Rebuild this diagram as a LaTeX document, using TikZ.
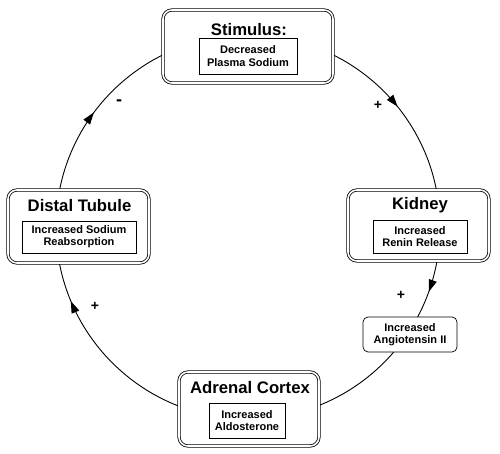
\documentclass[tikz,border=0pt]{standalone}
\usepackage{fontspec}
\setmainfont{Liberation Sans}
\usetikzlibrary{arrows.meta,decorations.markings}
\begin{document}
\begin{tikzpicture}[x=1pt,y=-1pt,
 outerbox/.style={draw, fill=white, rounded corners=9pt, line width=0.8pt, double, double distance=1.6pt, inner sep=0pt},
 innerbox/.style={draw, fill=white, line width=0.7pt, inner sep=0pt, align=center, font=\fontsize{11}{12.3}\selectfont\bfseries},
 roundbox/.style={draw, fill=white, rounded corners=5pt, line width=0.7pt, inner sep=0pt, align=center, font=\fontsize{11}{12.3}\selectfont\bfseries},
 titletext/.style={font=\fontsize{16.7}{18}\selectfont\bfseries, inner sep=0pt},
 signtext/.style={font=\fontsize{14}{15}\selectfont\bfseries, inner sep=0pt},
 tip/.tip={Triangle[length=12pt,width=8pt]},
 cyc/.style={line width=0.9pt, postaction={decorate}, decoration={markings,
   mark=at position 0.1422 with {\arrow{tip}},
   mark=at position 0.3047 with {\arrow{tip}},
   mark=at position 0.6870 with {\arrow{tip}},
   mark=at position 0.8517 with {\arrow{tip}}}}
]
\useasboundingbox (0,0) rectangle (500,454);
% cycle
\coordinate (top) at (248,35);
\draw[cyc] (top) arc[start angle=-90, end angle=270, radius=192];
% Stimulus
\node[outerbox, minimum width=170pt, minimum height=73pt] (stim) at (248,46.5) {};
\node[titletext] (stimt) at (249,30) {Stimulus:};
\node[innerbox, minimum width=98pt, minimum height=36pt] (stimb) at (248,56) {Decreased\\Plasma Sodium};
% Kidney
\node[outerbox, minimum width=141pt, minimum height=71pt] (kid) at (418.5,225.5) {};
\node[titletext] (kidt) at (420,205) {Kidney};
\node[innerbox, minimum width=94pt, minimum height=33pt] (kidb) at (420,236.5) {Increased\\Renin Release};
% Angiotensin
\node[roundbox, minimum width=94pt, minimum height=35pt] (ang) at (410,334.5) {Increased\\Angiotensin II};
% Adrenal
\node[outerbox, minimum width=140pt, minimum height=74pt] (adr) at (249,409) {};
\node[titletext] (adrt) at (250,388) {Adrenal Cortex};
\node[innerbox, minimum width=76pt, minimum height=35pt] (adrb) at (247,420.5) {Increased\\Aldosterone};
% Distal tubule
\node[outerbox, minimum width=141pt, minimum height=73pt] (dis) at (78.5,226.5) {};
\node[titletext] (dist) at (79.5,206) {Distal Tubule};
\node[innerbox, minimum width=114pt, minimum height=32pt] (disb) at (79,237) {Increased Sodium\\Reabsorption};
% signs
\node[signtext] (s1) at (378,105) {+};
\node[signtext] (s2) at (401,295) {+};
\node[signtext] (s3) at (95,306) {+};
\node[signtext, font=\fontsize{18}{19}\selectfont\bfseries] (s4) at (119,103) {-};
\end{tikzpicture}
\end{document}
